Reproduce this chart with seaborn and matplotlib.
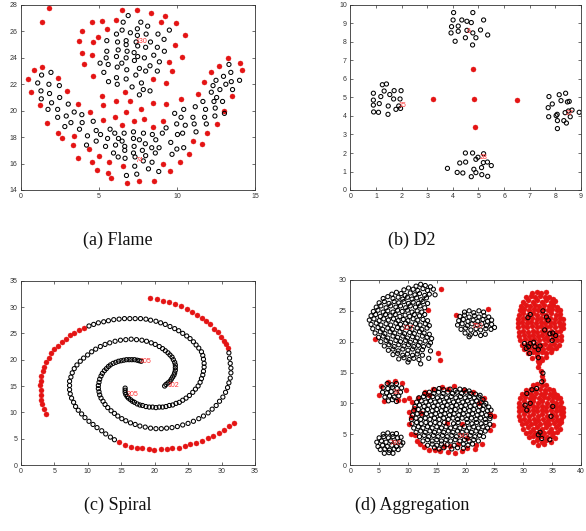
import numpy as np
import pandas as pd
import matplotlib
matplotlib.use("Agg")
import matplotlib.pyplot as plt
import seaborn as sns

sns.set_theme(style="white")
plt.rcParams["font.family"] = ["Liberation Sans", "DejaVu Sans"]

# ---------------- Flame ----------------
flame_red = [(1.81,27.8),(1.32,26.7),(6.48,27.6),(7.42,27.6),(8.34,27.4),(9.21,27.2),(4.52,26.7),(5.22,26.8),
(6.12,26.9),(9.0,26.7),(9.94,26.6),(3.88,26.0),(5.50,26.2),(4.95,25.6),(10.51,25.7),(3.71,25.3),(4.63,25.2),
(9.87,25.0),(3.90,24.4),(4.52,24.2),(10.32,24.1),(4.07,23.5),(9.51,23.7),(9.68,23.0),(4.63,22.6),(8.49,22.4),
(9.28,22.1),(0.47,22.4),(0.81,23.1),(1.36,23.3),(2.37,22.5),(0.62,21.4),(2.92,21.5),(1.24,20.4),(1.66,19.1),
(2.35,18.3),(2.65,17.9),(3.33,17.4),(3.41,18.1),(3.67,20.5),(4.43,19.9),(3.67,16.4),(4.37,17.1),(4.52,16.1),
(5.01,16.6),(4.90,15.5),(5.57,15.3),(5.80,14.9),(5.63,16.1),(5.25,20.4),(5.20,21.1),(5.27,19.3),(6.03,19.5),
(6.12,20.7),(6.65,21.4),(6.50,18.9),(6.99,20.7),(6.71,19.9),(6.52,15.8),(6.80,14.5),(7.27,19.2),(7.68,20.1),
(7.89,19.4),(8.49,20.6),(8.46,18.8),(7.59,14.7),(8.53,14.7),(9.12,16.0),(9.12,19.2),(9.31,20.5),(9.57,15.4),
(10.19,16.1),(10.75,16.7),(10.24,20.9),(11.36,21.3),(11.05,17.7),(11.60,17.5),(11.75,22.2),(11.92,18.3),
(12.15,22.9),(12.58,19.0),(12.67,23.4),(13.03,20.0),(13.26,24.0),(13.52,21.1),(14.07,23.6),(14.18,23.1)]

flame_black = [(6.87,27.2),(6.55,26.7),(7.68,26.7),(8.12,26.4),(6.48,26.1),(7.46,26.2),(7.01,25.9),(6.12,25.8),
(7.46,25.7),(8.02,25.8),(8.78,25.8),(9.51,26.1),(5.50,25.3),(6.19,25.2),(6.74,25.3),(7.38,25.2),(8.30,25.2),
(9.17,25.4),(6.74,25.0),(7.48,24.9),(7.99,24.8),(8.74,24.8),(5.50,24.5),(6.23,24.6),(6.80,24.5),(7.25,24.4),
(9.19,24.5),(5.46,24.0),(6.12,24.1),(6.74,24.0),(7.48,24.1),(8.51,24.2),(5.07,23.6),(5.59,23.5),(6.46,23.6),
(7.27,23.8),(7.91,24.0),(8.87,23.7),(6.17,23.3),(6.78,23.1),(7.59,23.2),(8.27,23.4),(5.31,22.9),(7.99,23.0),
(8.74,23.0),(6.12,22.5),(6.74,22.4),(7.36,22.7),(5.61,22.2),(6.17,22.0),(7.72,22.1),(7.12,21.8),(7.84,21.6),
(8.27,21.5),(7.59,21.2),
(1.32,22.7),(1.92,22.9),(1.07,22.1),(1.79,22.0),(2.46,21.9),(1.28,21.5),(1.83,21.3),(2.48,21.0),(1.30,20.9),
(1.96,20.6),(3.03,20.5),(1.73,20.1),(2.35,20.1),(3.41,19.9),(2.35,19.5),(2.90,19.6),(3.90,19.7),(3.20,19.1),
(3.92,19.1),(2.81,18.8),(3.75,18.6),(4.63,19.2),
(4.26,18.1),(4.20,17.4),(4.82,17.7),(4.82,18.5),(5.10,18.2),(5.71,18.6),(6.01,18.3),(5.55,17.9),(5.42,17.3),
(6.06,17.4),(6.25,17.9),(6.61,18.3),(6.48,17.7),(6.65,17.3),(6.65,17.0),(5.93,16.8),(6.23,16.5),(6.67,16.4),
(7.21,18.4),(7.85,18.3),(7.21,17.9),(7.59,17.8),(7.25,17.3),(7.97,17.5),(7.21,16.8),(7.78,17.0),(7.31,16.5),
(7.99,16.6),(7.29,15.8),(7.84,16.2),(8.42,18.2),(8.64,17.8),(8.38,17.2),(8.85,17.2),(8.61,16.8),(8.40,16.1),
(8.17,15.6),(8.83,15.4),(9.30,18.7),(9.06,18.3),(10.03,18.2),(9.60,17.6),(9.99,17.1),(9.68,16.7),(10.43,17.2),
(10.36,18.3),(10.43,20.1),(9.85,19.8),(10.26,19.5),(9.98,19.0),(10.53,18.9),(6.76,15.1),(7.42,15.2),
(11.17,20.3),(11.02,19.5),(11.10,19.0),(11.22,18.4),(11.66,20.7),(11.83,20.1),(11.77,19.5),(11.88,19.0),
(12.20,21.4),(12.37,20.7),(12.45,20.2),(12.43,19.6),(12.31,21.9),(12.50,22.3),(12.75,21.6),(12.54,21.0),
(12.92,20.7),(13.04,19.8),(12.98,22.6),(13.13,22.0),(13.33,23.5),(13.45,22.9),(13.48,22.2),(13.56,21.6),
(14.01,22.3)]
flame_labels = [(7.7,25.2,"130"),(7.6,16.2,"74")]

# ---------------- D2 ----------------
d2_red = [(3.21,4.90),(4.81,4.92),(6.50,4.88),(4.77,6.54),(4.86,3.41)]
d2_black = [(4.03,9.59),(4.78,9.59),(4.01,9.19),(4.35,9.19),(4.55,9.12),(4.72,9.05),(5.20,9.19),(3.95,8.83),
(4.21,8.86),(3.93,8.49),(4.21,8.58),(4.55,8.63),(4.78,8.49),(5.08,8.65),(5.36,8.38),(4.49,8.23),(4.90,8.23),
(4.09,8.04),(4.77,7.84),
(1.25,5.69),(1.41,5.73),(0.90,5.23),(1.32,5.35),(1.71,5.37),(1.98,5.37),(1.54,5.16),(1.19,5.05),(0.90,4.86),
(1.69,4.92),(1.94,4.92),(1.13,4.67),(0.90,4.59),(1.48,4.54),(1.89,4.54),(1.78,4.36),(1.96,4.41),(0.91,4.22),
(1.10,4.20),(1.47,4.09),
(7.75,5.05),(8.15,5.15),(8.40,5.23),(8.22,4.83),(7.88,4.65),(8.47,4.76),(8.54,4.79),(7.72,4.45),(8.65,4.32),
(8.38,4.18),(8.51,4.27),(8.07,4.09),(8.03,4.02),(8.93,4.20),(7.74,3.96),(8.58,3.96),(8.08,3.75),(8.33,3.75),
(8.43,3.62),(8.08,3.32),
(4.49,2.00),(4.77,2.00),(5.20,1.96),(4.98,1.77),(4.90,1.66),(4.27,1.46),(4.50,1.51),(5.35,1.51),(5.50,1.32),
(5.19,1.48),(3.79,1.17),(4.82,1.12),(5.12,1.21),(4.17,0.95),(4.39,0.92),(4.90,0.94),(5.13,0.83),(4.72,0.72),
(5.36,0.74)]
d2_labels = [(4.63,8.59,"6"),(2.02,4.56,"15"),(8.55,4.14,"27"),(5.19,1.78,"28")]

# ---------------- Spiral ----------------
spiral_red = [(19.3,31.8),(20.3,31.5),(21.3,31.1),(22.2,30.9),(23.1,30.6),(23.9,30.2),(24.8,29.6),(25.6,29.1),
(26.3,28.5),(27.1,28.0),(27.7,27.4),(28.3,26.7),(28.9,25.8),(29.4,25.2),(29.9,24.4),(30.3,23.6),(30.6,22.9),
(30.9,22.2),
(9.4,26.1),(8.7,25.6),(8.0,25.1),(7.3,24.6),(6.7,23.9),(6.1,23.4),(5.6,22.6),(5.0,22.0),(4.6,21.2),(4.2,20.3),
(3.8,19.6),(3.5,18.7),(3.4,17.8),(3.1,16.9),(3.0,16.0),(2.9,15.1),(3.0,14.2),(3.0,13.3),(3.1,12.4),(3.2,11.5),
(3.5,10.7),(3.8,9.7),
(14.7,4.3),(15.6,3.8),(16.5,3.5),(17.3,3.2),(18.1,3.2),(19.1,3.0),(19.9,2.9),(20.9,3.0),(21.8,3.1),(22.6,3.2),
(23.6,3.3),(24.5,3.7),(25.3,3.9),(26.2,4.2),(27.1,4.6),(28.0,5.1),(28.8,5.6),(29.6,6.1),(30.3,6.7),(31.1,7.5),
(31.9,8.0)]
spiral_black = [
(15.6,14.6),(15.6,14.2),(15.6,13.8),(15.7,13.4),(15.9,13.0),(16.1,12.7),(16.4,12.4),(16.7,12.1),(17.0,11.9),
(17.4,11.6),(17.8,11.4),(18.2,11.3),(18.7,11.1),(19.2,11.0),(19.7,11.0),(20.2,10.9),(20.7,11.0),(21.2,11.0),
(21.7,11.1),(22.2,11.3),(22.7,11.4),(23.2,11.7),(23.7,11.9),(24.2,12.3),(24.7,12.7),(25.2,13.2),(25.7,13.8),
(26.1,14.4),(26.5,15.0),(26.8,15.7),(27.0,16.4),(27.2,17.1),(27.3,17.8),(27.4,18.6),(27.4,19.3),(27.3,20.1),
(27.2,20.8),(27.0,21.5),(26.6,22.2),(26.2,22.8),(25.8,23.4),(25.3,24.0),(24.8,24.5),(24.2,25.0),(23.6,25.5),
(23.0,25.9),(22.3,26.3),(21.6,26.7),(20.9,27.0),(20.2,27.3),(19.4,27.5),(18.7,27.7),(17.9,27.8),(17.1,27.8),
(16.3,27.8),(15.5,27.8),(14.7,27.7),(13.9,27.6),(13.1,27.4),(12.4,27.2),(11.6,27.0),(10.9,26.7),(10.2,26.4),
(21.5,15.0),(21.7,15.3),(22.0,15.6),(22.3,15.9),(22.5,16.3),(22.7,16.7),(22.9,17.1),(23.0,17.5),(23.1,18.0),
(23.1,18.5),(23.1,19.0),(23.0,19.5),(22.8,20.0),(22.6,20.5),(22.3,20.9),(22.0,21.3),(21.6,21.7),(21.2,22.1),
(20.7,22.5),(20.1,22.9),(19.5,23.2),(18.8,23.5),(18.1,23.7),(17.3,23.8),(16.5,23.9),(15.7,23.8),(14.9,23.7),
(14.1,23.5),(13.3,23.2),(12.6,22.9),(11.9,22.5),(11.2,22.0),(10.6,21.5),(10.0,20.9),(9.4,20.3),(8.9,19.7),
(8.4,19.0),(8.0,18.3),(7.7,17.5),(7.5,16.7),(7.3,15.9),(7.3,15.1),(7.3,14.3),(7.4,13.5),(7.6,12.7),(7.9,11.9),
(8.2,11.1),(8.6,10.4),(9.1,9.7),(9.6,9.0),(10.2,8.3),(10.8,7.7),(11.4,7.1),(12.1,6.5),(12.7,5.9),(13.4,5.3),
(14.0,4.8),
(18.0,19.7),(17.7,19.8),(17.4,19.9),(17.0,20.0),(16.6,20.0),(16.2,20.0),(15.8,20.0),(15.4,19.9),(15.0,19.8),
(14.6,19.7),(14.2,19.5),(13.8,19.3),(13.4,19.0),(13.1,18.7),(12.8,18.3),(12.5,17.9),(12.2,17.4),(12.0,16.9),
(11.8,16.3),(11.7,15.7),(11.6,15.1),(11.6,14.5),(11.7,13.9),(11.8,13.3),(12.0,12.7),(12.3,12.1),(12.6,11.5),
(13.0,10.9),(13.5,10.3),(14.0,9.8),(14.5,9.3),(15.1,8.8),(15.7,8.4),(16.4,8.0),(17.1,7.7),(17.8,7.4),(18.6,7.2),
(19.4,7.0),(20.2,6.9),(21.0,6.9),(21.8,7.0),(22.6,7.1),(23.4,7.3),(24.2,7.6),(25.0,7.9),(25.8,8.3),(26.6,8.8),
(27.3,9.3),(28.0,9.9),(28.6,10.6),(29.2,11.3),(29.7,12.1),(30.2,12.9),(30.6,13.8),(30.9,14.7),(31.1,15.6),
(31.3,16.5),(31.4,17.5),(31.4,18.4),(31.3,19.3),(31.2,20.3),(31.1,21.3)]
spiral_labels = [(16.7,13.4,"305"),(22.8,15.1,"102"),(18.7,19.6,"205")]

# ---------------- Aggregation ----------------
agg_black_topleft = [
(11.4,29.0),(12.2,29.3),(13.0,29.1),(13.9,28.9),
(9.3,28.4),(10.1,28.7),(10.9,28.5),(11.7,28.3),(12.6,28.6),(13.4,28.3),(14.4,28.5),
(7.2,27.7),(8.0,28.0),(8.8,27.8),(9.5,27.5),(10.4,27.9),(11.2,27.6),(12.0,27.8),(12.9,27.5),(13.7,27.7),(14.7,27.6),
(5.7,27.0),(6.5,27.3),(7.4,27.0),(8.3,27.2),(9.1,26.9),(9.9,27.2),(10.7,26.9),(11.5,27.1),(12.3,26.8),(13.2,27.1),
(5.0,26.3),(5.9,26.5),(6.7,26.2),(7.6,26.5),(8.4,26.3),(9.3,26.5),(10.1,26.2),(10.9,26.4),(11.8,26.2),(12.6,26.5),(13.4,26.2),
(4.5,25.6),(5.3,25.8),(6.2,25.5),(7.0,25.8),(7.9,25.6),(8.7,25.8),(9.6,25.5),(10.4,25.8),(11.3,25.6),(12.1,25.8),(12.9,25.5),
(4.0,24.9),(4.8,25.1),(5.7,24.8),(6.5,25.0),(7.4,24.8),(8.2,25.1),(9.0,24.9),(9.9,25.1),(10.7,24.8),(11.6,25.0),(12.4,24.8),
(3.6,24.2),(4.4,24.4),(5.2,24.1),(6.1,24.4),(6.9,24.2),(7.8,24.4),(8.6,24.1),(9.5,24.3),(10.3,24.1),(11.1,24.4),(12.0,24.2),(12.9,24.4),
(3.3,23.5),(4.1,23.7),(5.0,23.4),(5.8,23.7),(6.6,23.5),(7.5,23.7),(8.3,23.4),(9.2,23.6),(10.0,23.4),(10.9,23.7),(11.7,23.5),(12.6,23.6),(13.4,23.4),
(3.6,22.8),(4.5,23.0),(5.3,22.7),(6.2,22.9),(7.0,22.7),(7.9,23.0),(8.7,22.8),(9.6,23.0),(10.4,22.7),(11.3,22.9),(12.1,22.7),(13.0,22.9),(13.7,22.6),
(3.9,22.1),(4.8,22.3),(5.6,22.0),(6.5,22.2),(7.3,22.0),(8.2,22.3),(9.0,22.1),(9.9,22.3),(10.7,22.0),(11.6,22.2),(12.4,22.0),(13.3,22.2),
(4.3,21.4),(5.2,21.6),(6.0,21.3),(6.9,21.6),(7.7,21.4),(8.6,21.6),(9.4,21.3),(10.3,21.5),(11.1,21.3),(12.0,21.6),(12.8,21.4),(13.7,21.2),
(4.9,20.7),(5.7,20.9),(6.5,20.6),(7.4,20.9),(8.2,20.7),(9.1,20.9),(9.9,20.6),(10.8,20.8),(11.6,20.6),(12.5,20.9),(13.3,20.7),(14.1,20.5),
(5.3,20.0),(6.2,20.2),(7.0,19.9),(7.9,20.2),(8.7,20.0),(9.6,20.2),(10.4,19.9),(11.3,20.1),(12.1,19.9),(13.0,20.1),(13.9,19.8),
(5.9,19.3),(6.7,19.5),(7.6,19.2),(8.4,19.5),(9.3,19.3),(10.1,19.5),(11.0,19.2),(11.8,19.4),(12.7,19.2),(13.6,19.4),
(6.6,18.6),(7.4,18.8),(8.3,18.5),(9.1,18.8),(10.0,18.6),(10.8,18.8),(11.7,18.5),(12.5,18.7),(13.9,18.5),
(7.4,17.9),(8.2,18.1),(9.1,17.8),(9.9,18.0),(10.8,17.8),(11.6,18.0),(12.5,17.8),
(8.4,17.2),(9.3,17.4),(10.2,17.1),(11.0,17.3),(11.9,17.1),(13.6,17.3),(10.0,16.7),(12.2,16.4)]

agg_black_small = [
(19.8,24.8),(20.6,25.0),(21.4,24.7),(22.3,25.0),(23.1,24.8),
(19.0,24.1),(19.8,24.3),(20.6,24.0),(21.5,24.2),(22.3,24.0),(23.2,24.2),(24.0,24.0),
(18.8,23.4),(19.6,23.6),(20.4,23.3),(21.3,23.5),(22.1,23.3),(23.0,23.6),(23.8,23.3),(24.5,23.5),
(18.6,22.7),(19.4,22.9),(20.3,22.6),(21.1,22.9),(22.0,22.7),(22.8,22.9),(23.6,22.6),(24.5,22.8),
(19.2,22.0),(20.0,22.2),(20.9,21.9),(21.8,22.1),(22.6,21.9),(23.5,22.1),(24.4,22.0),(25.0,22.3),
(19.9,21.4),(20.8,21.1),(21.7,21.3),(22.6,21.0),(23.4,21.2),(20.6,20.8),
(6.4,13.2),(7.2,13.0),(8.0,13.2),(5.7,12.5),(6.5,12.4),(7.3,12.6),(8.1,12.4),(8.9,12.5),
(5.6,11.8),(6.3,11.7),(7.1,11.9),(7.9,11.7),(8.7,11.8),(6.0,11.0),(6.8,11.2),(7.6,11.0),(8.4,11.2),
(6.6,10.4),(7.3,10.6),(8.0,10.3),
(5.7,5.0),(6.5,5.2),(7.3,5.0),(8.0,5.1),(5.0,4.4),(5.8,4.6),(6.6,4.4),(7.4,4.6),(8.2,4.4),(8.8,4.5),
(4.6,3.7),(5.4,3.9),(6.2,3.7),(7.0,3.9),(7.8,3.7),(8.6,3.8),(9.1,3.6),(4.8,3.0),(5.6,3.2),(6.4,3.0),
(7.2,3.2),(8.0,3.0),(8.8,3.2),(5.2,2.5),(6.0,2.6),(6.8,2.4),(7.6,2.6),(8.3,2.5),(5.9,1.9),(6.7,2.0),(7.4,1.9)]

agg_black_bottom = [
(14.6,12.2),(15.4,12.4),(16.2,12.2),(17.3,12.3),(18.2,12.1),(19.0,12.3),(19.8,12.2),(20.6,12.0),
(12.9,11.6),(13.7,11.8),(14.5,11.6),(15.3,11.8),(16.1,11.6),(16.9,11.8),(17.7,11.6),(18.5,11.8),(19.3,11.6),
(20.1,11.8),(20.9,11.6),(21.7,11.5),(22.5,11.3),
(11.9,10.9),(12.7,11.1),(13.5,10.9),(14.3,11.1),(15.1,10.9),(15.9,11.1),(16.7,10.9),(17.5,11.1),(18.3,10.9),
(19.1,11.1),(19.9,10.9),(20.7,11.1),(21.5,10.9),(22.3,11.0),(23.0,10.6),
(11.5,10.2),(12.3,10.4),(13.1,10.2),(13.9,10.4),(14.7,10.2),(15.5,10.4),(16.3,10.2),(17.1,10.4),(17.9,10.2),
(18.7,10.4),(19.5,10.2),(20.3,10.4),(21.1,10.2),(21.9,10.4),(22.7,10.2),(23.5,10.0),
(11.2,9.5),(12.0,9.7),(12.8,9.5),(13.6,9.7),(14.4,9.5),(15.2,9.7),(16.0,9.5),(16.8,9.7),(17.6,9.5),(18.4,9.7),
(19.2,9.5),(20.0,9.7),(20.8,9.5),(21.6,9.7),(22.4,9.5),(23.2,9.7),(24.0,9.4),
(11.0,8.8),(11.8,9.0),(12.6,8.8),(13.4,9.0),(14.2,8.8),(15.0,9.0),(15.8,8.8),(16.6,9.0),(17.4,8.8),(18.2,9.0),
(19.0,8.8),(19.8,9.0),(20.6,8.8),(21.4,9.0),(22.2,8.8),(23.0,9.0),(23.8,8.8),(24.4,8.9),
(10.8,8.1),(11.6,8.3),(12.4,8.1),(13.2,8.3),(14.0,8.1),(14.8,8.3),(15.6,8.1),(16.4,8.3),(17.2,8.1),(18.0,8.3),
(18.8,8.1),(19.6,8.3),(20.4,8.1),(21.2,8.3),(22.0,8.1),(22.8,8.3),(23.6,8.1),(24.3,7.9),
(10.6,7.4),(11.4,7.6),(12.2,7.4),(13.0,7.6),(13.8,7.4),(14.6,7.6),(15.4,7.4),(16.2,7.6),(17.0,7.4),(17.8,7.6),
(18.6,7.4),(19.4,7.6),(20.2,7.4),(21.0,7.6),(21.8,7.4),(22.6,7.6),(23.4,7.4),(24.2,7.5),
(10.7,6.7),(11.5,6.9),(12.3,6.7),(13.1,6.9),(13.9,6.7),(14.7,6.9),(15.5,6.7),(16.3,6.9),(17.9,6.7),(18.7,6.9),
(20.3,6.9),(21.1,6.7),(21.9,6.9),(22.7,6.7),(23.5,6.9),(24.2,6.6),
(11.0,6.0),(11.8,6.2),(12.6,6.0),(13.4,6.2),(14.2,6.0),(15.0,6.2),(15.8,6.0),(16.6,6.2),(17.4,6.0),(18.2,6.2),
(19.0,6.0),(19.8,6.2),(20.6,6.0),(21.4,6.2),(22.2,6.0),(23.0,6.2),(23.8,6.0),
(11.4,5.3),(12.2,5.5),(13.0,5.3),(13.8,5.5),(14.6,5.3),(15.4,5.5),(16.2,5.3),(17.0,5.5),(17.8,5.3),(18.6,5.5),
(19.4,5.3),(20.2,5.5),(21.0,5.3),(21.8,5.5),(22.6,5.3),(23.4,5.5),
(12.0,4.6),(12.8,4.8),(13.6,4.6),(14.4,4.8),(15.2,4.6),(16.0,4.8),(16.8,4.6),(17.6,4.8),(18.4,4.6),(19.2,4.8),
(20.0,4.6),(20.8,4.8),(21.6,4.6),(22.4,4.8),(23.1,4.6),
(12.6,3.9),(13.4,4.1),(14.2,3.9),(15.0,4.1),(15.8,3.9),(16.6,4.1),(17.4,3.9),(18.2,4.1),(19.0,3.9),(19.8,4.1),
(20.6,3.9),(21.4,4.1),(22.2,3.9),
(13.4,3.2),(14.2,3.4),(15.0,3.2),(15.8,3.4),(16.8,3.3),(18.0,3.2),(19.6,3.4),(20.4,3.2),(21.2,3.4),
(14.6,2.8),(15.4,2.6),(16.2,2.8),(17.6,2.6),(18.6,2.8),(19.6,2.7)]

agg_black_right = [(31.2,24.4),(30.8,23.9),(34.0,24.0),(34.3,23.5),(34.6,21.3),(35.1,21.4),(33.7,21.9),
(30.2,19.7),(30.5,18.9),(31.2,19.7),(32.0,19.2),(32.6,18.7),(32.9,19.3),(31.1,18.1),(32.6,17.4),(35.0,20.2),
(35.6,21.0),(33.4,25.0),(31.8,19.9),(30.9,19.2),
(33.2,13.5),(32.3,12.4),(31.5,12.2),(30.6,11.6),(30.3,9.7),(30.6,8.9),(35.1,9.5),(32.6,4.9),(32.9,5.3),
(34.6,4.1),(33.4,14.9),(33.2,4.3),(31.2,10.0),(34.8,7.9)]

agg_red = [(15.8,28.6),(13.4,25.1),(4.2,20.4),(15.2,18.2),(15.6,17.1),(18.4,24.4),(23.8,25.3),
(5.35,12.8),(5.06,11.3),(5.9,10.3),(6.6,13.4),(7.7,13.6),(8.9,13.3),(9.6,12.2),(8.3,10.5),(9.3,10.6),
(10.2,10.8),(10.7,10.2),(11.1,9.3),
(10.2,8.6),(10.2,6.6),(10.6,5.1),(11.5,3.9),(12.0,3.4),(12.8,2.9),(13.7,2.5),(14.7,2.4),(15.6,2.2),(17.0,2.1),
(18.1,2.0),(19.3,2.2),(20.3,2.7),(21.6,2.6),(22.8,3.4),(24.3,5.7),(24.8,6.5),(24.9,8.0),(24.3,8.3),(23.2,10.9),
(22.4,10.1),(21.3,11.8),(19.8,12.1),(18.0,12.8),(16.9,12.4),(15.9,12.7),(14.4,12.4),(13.0,11.8),(11.8,10.8),
(11.0,9.1),(10.5,7.8),(11.3,4.9),(16.7,6.8),(19.3,6.6),(16.3,3.1),(17.3,3.1),(18.7,3.4),(20.2,4.3),(21.8,3.2),
(12.3,8.5),(12.9,11.7),(13.6,11.3),
(31.5,27.9),(32.3,28.1),(33.1,27.9),(33.9,28.0),
(30.5,27.2),(31.3,27.4),(32.1,27.2),(32.9,27.4),(33.7,27.2),(34.5,27.3),(35.2,27.0),
(30.0,26.5),(30.8,26.7),(31.6,26.5),(32.4,26.7),(33.2,26.5),(34.0,26.7),(34.8,26.5),(35.5,26.6),
(29.6,25.8),(30.4,26.0),(31.2,25.8),(32.0,26.0),(32.8,25.8),(33.6,26.0),(34.4,25.8),(35.2,26.0),(35.9,25.7),
(29.4,25.1),(30.2,25.3),(31.0,25.1),(31.8,25.3),(32.6,25.1),(33.4,25.3),(34.2,25.1),(35.0,25.3),(35.8,25.1),(36.3,25.2),
(29.2,24.4),(30.0,24.6),(30.8,24.4),(31.6,24.6),(32.4,24.4),(33.2,24.6),(34.0,24.4),(34.8,24.6),(35.6,24.4),(36.4,24.5),
(29.1,23.7),(29.9,23.9),(30.7,23.7),(31.5,23.9),(32.3,23.7),(33.1,23.9),(33.9,23.7),(34.7,23.9),(35.5,23.7),(36.3,23.9),(36.8,23.6),
(29.0,23.0),(29.8,23.2),(30.6,23.0),(31.4,23.2),(32.2,23.0),(33.0,23.2),(33.8,23.0),(34.6,23.2),(35.4,23.0),(36.2,23.2),(36.8,22.9),
(29.1,22.3),(29.9,22.5),(30.7,22.3),(31.5,22.5),(32.3,22.3),(33.1,22.5),(33.9,22.3),(34.7,22.5),(35.5,22.3),(36.3,22.5),(36.8,22.2),
(29.2,21.6),(30.0,21.8),(30.8,21.6),(31.6,21.8),(32.4,21.6),(33.2,21.8),(34.0,21.6),(34.8,21.8),(35.6,21.6),(36.4,21.8),
(29.3,20.9),(30.1,21.1),(30.9,20.9),(31.7,21.1),(32.5,20.9),(33.3,21.1),(34.1,20.9),(34.9,21.1),(35.7,20.9),(36.5,21.0),
(29.5,20.2),(30.3,20.4),(31.1,20.2),(31.9,20.4),(32.7,20.2),(33.5,20.4),(34.3,20.2),(35.1,20.4),(35.9,20.2),(36.5,20.3),
(29.8,19.5),(30.6,19.7),(31.4,19.5),(32.2,19.7),(33.0,19.5),(33.8,19.7),(34.6,19.5),(35.4,19.7),(36.1,19.5),
(30.2,18.8),(31.0,19.0),(31.8,18.8),(32.6,19.0),(33.4,18.8),(34.2,19.0),(35.0,18.8),(35.7,18.9),
(30.8,18.1),(31.6,18.3),(32.4,18.1),(33.2,18.3),(34.0,18.1),(34.8,18.3),
(31.5,17.4),(32.3,17.6),(33.1,17.4),(33.9,17.5),(32.5,16.8),(33.2,17.0),
(32.8,16.6),(32.5,15.9),(33.0,15.2),(33.3,14.5),(33.4,13.8),
(31.6,12.9),(32.4,13.1),(33.2,12.9),(34.0,13.0),
(30.5,12.2),(31.3,12.4),(32.1,12.2),(32.9,12.4),(33.7,12.2),(34.5,12.4),(35.2,12.1),
(29.8,11.5),(30.6,11.7),(31.4,11.5),(32.2,11.7),(33.0,11.5),(33.8,11.7),(34.6,11.5),(35.4,11.7),(35.9,11.4),
(29.5,10.8),(30.3,11.0),(31.1,10.8),(31.9,11.0),(32.7,10.8),(33.5,11.0),(34.3,10.8),(35.1,11.0),(35.9,10.8),(36.3,10.9),
(29.3,10.1),(30.1,10.3),(30.9,10.1),(31.7,10.3),(32.5,10.1),(33.3,10.3),(34.1,10.1),(34.9,10.3),(35.7,10.1),(36.5,10.2),
(29.2,9.4),(30.0,9.6),(30.8,9.4),(31.6,9.6),(32.4,9.4),(33.2,9.6),(34.0,9.4),(34.8,9.6),(35.6,9.4),(36.4,9.6),(36.8,9.3),
(29.2,8.7),(30.0,8.9),(30.8,8.7),(31.6,8.9),(32.4,8.7),(33.2,8.9),(34.0,8.7),(34.8,8.9),(35.6,8.7),(36.4,8.9),(36.9,8.6),
(29.3,8.0),(30.1,8.2),(30.9,8.0),(31.7,8.2),(32.5,8.0),(33.3,8.2),(34.1,8.0),(34.9,8.2),(35.7,8.0),(36.5,8.2),(36.9,7.9),
(29.4,7.3),(30.2,7.5),(31.0,7.3),(31.8,7.5),(32.6,7.3),(33.4,7.5),(34.2,7.3),(35.0,7.5),(35.8,7.3),(36.5,7.4),
(29.7,6.6),(30.5,6.8),(31.3,6.6),(32.1,6.8),(32.9,6.6),(33.7,6.8),(34.5,6.6),(35.3,6.8),(36.1,6.6),(36.6,6.9),
(30.0,5.9),(30.8,6.1),(31.6,5.9),(32.4,6.1),(33.2,5.9),(34.0,6.1),(34.8,5.9),(35.6,6.1),(36.3,5.9),
(30.4,5.2),(31.2,5.4),(32.0,5.2),(32.8,5.4),(33.6,5.2),(34.4,5.4),(35.2,5.2),(35.9,5.3),
(30.9,4.5),(31.7,4.7),(32.5,4.5),(33.3,4.7),(34.1,4.5),(34.9,4.7),(35.5,4.4),
(31.6,3.8),(32.4,4.0),(33.2,3.8),(34.0,4.0),(34.8,3.8),(32.6,3.3),(33.6,3.4)]
agg_labels = [(10.0,22.2,"127"),(22.1,22.4,"750"),(7.9,11.7,"18"),(7.9,3.5,"786"),(19.7,4.7,"542")]

captions = ["(a) Flame", "(b) D2", "(c) Spiral", "(d) Aggregation"]

RED = "#e41414"
fig = plt.figure(figsize=(5.86, 5.31), dpi=100)
W, H = 586.0, 531.0


def add_ax(l, t, r, b):
    return fig.add_axes([l / W, 1 - b / H, (r - l) / W, (b - t) / H])


def panel(ax, black, red, labels, xlim, ylim, xticks, yticks):
    if red:
        sns.scatterplot(data=pd.DataFrame(red, columns=["x", "y"]), x="x", y="y", ax=ax,
                        color=RED, edgecolor=RED, s=13, linewidth=0.3, zorder=2)
    sns.scatterplot(data=pd.DataFrame(black, columns=["x", "y"]), x="x", y="y", ax=ax,
                    facecolor="none", edgecolor="black", s=9, linewidth=0.75, zorder=3)
    for x, y, t in labels:
        ax.text(x, y, t, color="#ff3030", fontsize=5, ha="center", va="center", zorder=4)
    ax.set_xlim(*xlim)
    ax.set_ylim(*ylim)
    ax.set_xticks(xticks)
    ax.set_yticks(yticks)
    ax.set_xlabel("")
    ax.set_ylabel("")
    ax.tick_params(direction="in", length=2, width=0.5, labelsize=5, colors="#333333",
                   top=True, right=True, bottom=True, left=True, pad=2.5)
    for sp in ax.spines.values():
        sp.set_color("#333333")
        sp.set_linewidth(0.6)


ax_f = add_ax(21, 5, 255, 190)
ax_d = add_ax(350.3, 5, 581, 190)
ax_s = add_ax(20.7, 280.7, 255, 465)
ax_a = add_ax(350.3, 280, 581, 465)

panel(ax_f, flame_black, flame_red, flame_labels, (0, 15), (14, 28), [0, 5, 10, 15], list(range(14, 29, 2)))
panel(ax_d, d2_black, d2_red, d2_labels, (0, 9), (0, 10), list(range(0, 10)), list(range(0, 11)))
panel(ax_s, spiral_black, spiral_red, spiral_labels, (0, 35), (0, 35), list(range(0, 36, 5)), list(range(0, 36, 5)))
panel(ax_a, agg_black_topleft + agg_black_small + agg_black_bottom + agg_black_right, agg_red, agg_labels,
      (0, 40), (0, 30), list(range(0, 41, 5)), list(range(0, 31, 5)))

cap_pos = [(117.5, 240), (411.7, 240), (118, 505), (411.7, 505)]
for (cx, cy), txt in zip(cap_pos, captions):
    fig.text(cx / W, 1 - cy / H, txt, ha="center", va="center", fontsize=13,
             family=["Liberation Serif", "DejaVu Serif"], color="#111111")

fig.savefig("out.png", dpi=100)
